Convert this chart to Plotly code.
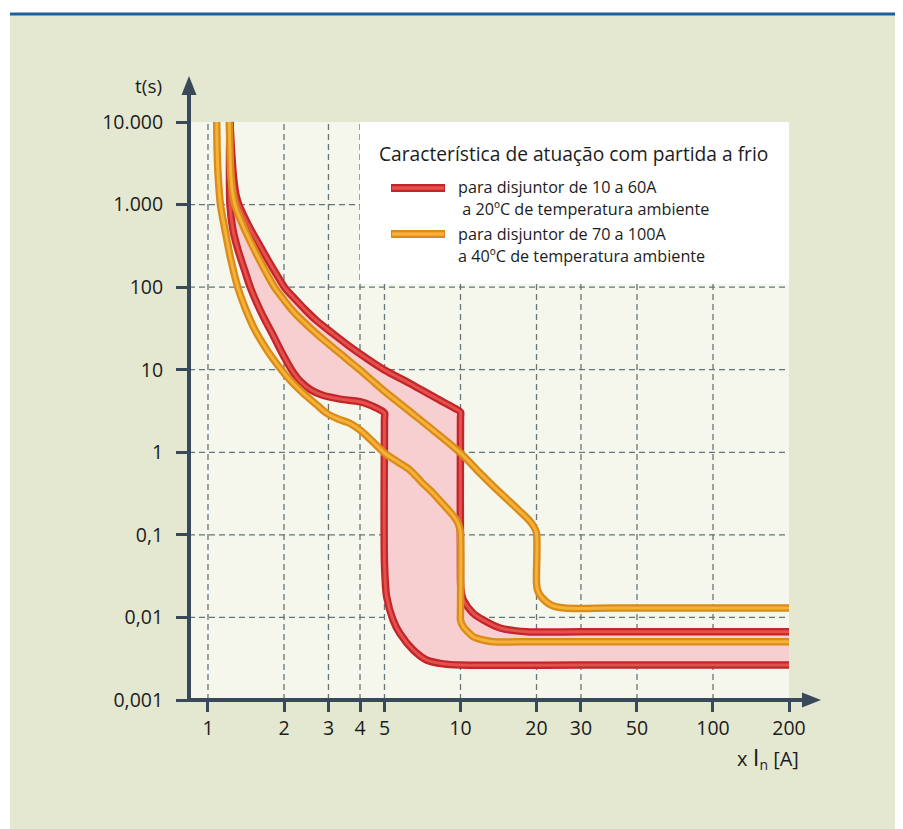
import plotly.graph_objects as go

# ticks / grid
x_ticks = [1, 2, 3, 4, 5, 10, 20, 30, 50, 100, 200]
x_ticktext = ["1", "2", "3", "4", "5", "10", "20", "30", "50", "100", "200"]
y_ticks = [0.001, 0.01, 0.1, 1, 10, 100, 1000, 10000]
y_ticktext = ["0,001", "0,01", "0,1", "1", "10", "100", "1.000", "10.000"]
grid_x = [1, 2, 3, 4, 5, 10, 20, 30, 50, 100]
grid_y = [0.01, 0.1, 1, 10, 100, 1000]

# disjuntor 10 a 60A (20ºC) - limite superior
red_hi_x = [1.222, 1.239, 1.262, 1.291, 1.327, 1.382, 1.480, 1.600, 1.729, 1.876, 2.018, 2.231, 2.433,
            2.677, 3.098, 3.618, 4.224, 5.0, 6.31, 7.925, 9.511, 10, 10, 10, 10.05, 10.26, 11.24, 12.31,
            14.34, 18.3, 30, 80, 200]
red_hi_y = [10000, 4581, 2158, 1306, 989, 748, 492, 324, 213, 140, 97.6, 69.9, 52.9, 40.0, 27.9, 19.4,
            13.9, 9.93, 6.81, 4.60, 3.39, 3.08, 2.6, 0.0284, 0.0215, 0.0163, 0.0112, 0.0093, 0.00744,
            0.0067, 0.0067, 0.0067, 0.0067]
# disjuntor 10 a 60A (20ºC) - limite inferior
red_lo_x = [1.222, 1.217, 1.222, 1.256, 1.315, 1.395, 1.474, 1.607, 1.682, 1.809, 1.937, 2.145, 2.335,
            2.558, 2.828, 3.333, 4.0, 4.462, 5.0, 5.0, 5.0, 5.10, 5.41, 5.75, 6.50, 7.34, 8.54, 10, 30, 80,
            200]
red_lo_y = [10000, 3465, 989, 492, 282, 161.5, 97.6, 52.9, 40.0, 26.3, 17.3, 9.93, 7.10, 5.68, 4.94,
            4.41, 4.10, 3.64, 2.99, 2.55, 0.0452, 0.0178, 0.0093, 0.00643, 0.00403, 0.00305, 0.00274,
            0.00265, 0.00265, 0.00265, 0.00265]

# disjuntor 70 a 100A (40ºC) - limite superior
orn_hi_x = [1.214, 1.222, 1.233, 1.256, 1.279, 1.321, 1.401, 1.494, 1.600, 1.721, 1.842, 2.0, 2.151,
            2.350, 2.727, 3.213, 3.585, 4.0, 4.442, 4.933, 6.196, 7.782, 10, 11.94, 13.58, 15.42, 16.51,
            18.67, 19.55, 20, 20, 20.18, 20.87, 22.87, 25.8, 40, 80, 200]
orn_hi_y = [10000, 4581, 2158, 1306, 989, 748, 492, 324, 213, 140, 97.6, 69.9, 52.9, 40.0, 26.3, 17.3,
            13.1, 9.93, 7.50, 5.68, 3.25, 1.86, 0.98, 0.561, 0.380, 0.264, 0.217, 0.151, 0.1245, 0.105,
            0.0261, 0.0215, 0.0178, 0.0141, 0.0130, 0.0130, 0.0130, 0.0130]
# disjuntor 70 a 100A (40ºC) - limite inferior
orn_lo_x = [1.083, 1.087, 1.098, 1.121, 1.168, 1.233, 1.315, 1.414, 1.535, 1.713, 1.928, 2.112, 2.385,
            2.702, 2.952, 3.273, 3.651, 4.0, 4.422, 5.0, 5.656, 6.31, 7.008, 7.78, 8.448, 9.087, 9.511,
            9.774, 9.92, 10, 10, 10, 10.26, 10.74, 11.23, 12.31, 13.5, 20, 50, 200]
orn_lo_y = [10000, 4581, 2158, 989, 492, 213, 97.6, 52.9, 30.3, 17.3, 10.5, 7.50, 5.18, 3.74, 2.97,
            2.53, 2.24, 1.86, 1.41, 0.98, 0.762, 0.609, 0.436, 0.321, 0.243, 0.190, 0.160, 0.139, 0.121,
            0.105, 0.0113, 0.0093, 0.0077, 0.0066, 0.00584, 0.00533, 0.00508, 0.00508, 0.00508, 0.00508]

legend_title = "Característica de atuação com partida a frio"
legend_red = ["para disjuntor de 10 a 60A", " a 20ºC de temperatura ambiente"]
legend_orn = ["para disjuntor de 70 a 100A", "a 40ºC de temperatura ambiente"]

FONT = "Open Sans"
TXT = "#1c1c1c"
AX = "#38495a"
GRID = "#65757a"
BG = "#e4e8d1"
PLOT_BG = "#f5f7ed"
PINK = "#f8cfd1"
RED_OUT, RED_IN = "#c2262b", "#e5504b"
ORN_OUT, ORN_IN = "#d98b1b", "#f6b236"
SMOOTH = 0.8

OFF = 8  # page body margin around the figure
W, H = 903 - OFF, 829 - OFF
L, R, T, B = 189 - OFF, 83, 77 - OFF, 129
PW, PH = W - L - R, H - T - B
X_LOG = [-0.0752, 2.4238]
Y_LOG = [-3, 4.545]
x_left = 10 ** X_LOG[0]


def px_x(p):
    # screen pixel -> paper x
    return (p - OFF - L) / PW


def px_y(p):
    # screen pixel -> paper y
    return (H - B - (p - OFF)) / PH


fig = go.Figure()

# faixa rosa entre os limites do disjuntor 10-60A (linear, so the closing edge stays straight)
fig.add_trace(go.Scatter(
    x=red_hi_x + red_lo_x[::-1], y=red_hi_y + red_lo_y[::-1],
    fill="toself", fillcolor=PINK, mode="lines", line=dict(width=0), hoverinfo="skip",
))

curves_red = [(red_hi_x, red_hi_y), (red_lo_x, red_lo_y)]
curves_orn = [(orn_hi_x, orn_hi_y), (orn_lo_x, orn_lo_y)]
for curves, c_out, c_in in [(curves_red, RED_OUT, RED_IN), (curves_orn, ORN_OUT, ORN_IN)]:
    for xs, ys in curves:
        fig.add_trace(go.Scatter(x=xs, y=ys, mode="lines",
                                 line=dict(color=c_out, width=7.5, shape="spline", smoothing=SMOOTH)))
    for xs, ys in curves:
        fig.add_trace(go.Scatter(x=xs, y=ys, mode="lines",
                                 line=dict(color=c_in, width=3, shape="spline", smoothing=SMOOTH)))

fig.update_traces(showlegend=False)

shapes = [
    # green card + blue rule on top
    dict(type="rect", xref="paper", yref="paper", x0=px_x(10), x1=px_x(910), y0=px_y(15), y1=px_y(840),
         fillcolor=BG, line=dict(width=0), layer="below"),
    dict(type="line", xref="paper", yref="paper", x0=px_x(10), x1=px_x(910), y0=px_y(14), y1=px_y(14),
         line=dict(color="#1d5f9f", width=3), layer="below"),
    # light plotting area
    dict(type="rect", xref="x", yref="y", x0=x_left, x1=200, y0=0.001, y1=10000,
         fillcolor=PLOT_BG, line=dict(width=0), layer="below"),
]
for gx in grid_x:
    shapes.append(dict(type="line", xref="x", yref="y", x0=gx, x1=gx, y0=0.001, y1=10000,
                       line=dict(color=GRID, width=1.3, dash="6px,4px"), layer="below"))
for gy in grid_y:
    shapes.append(dict(type="line", xref="x", yref="y", x0=x_left, x1=200, y0=gy, y1=gy,
                       line=dict(color=GRID, width=1.3, dash="6px,4px"), layer="below"))
# white legend panel
shapes.append(dict(type="rect", xref="x", yref="y", x0=4, x1=200, y0=109, y1=10000,
                   fillcolor="white", line=dict(width=0), layer="below"))
# legend symbols
for yy, c_out, c_in in [(188, RED_OUT, RED_IN), (234, ORN_OUT, ORN_IN)]:
    shapes.append(dict(type="line", xref="paper", yref="paper", x0=px_x(391), x1=px_x(445),
                       y0=px_y(yy), y1=px_y(yy), line=dict(color=c_out, width=8)))
    shapes.append(dict(type="line", xref="paper", yref="paper", x0=px_x(392), x1=px_x(444),
                       y0=px_y(yy), y1=px_y(yy), line=dict(color=c_in, width=3.5)))

# axes with arrow heads
shapes.append(dict(type="line", xref="paper", yref="paper", x0=px_x(189), x1=px_x(189),
                   y0=px_y(702), y1=px_y(92), line=dict(color=AX, width=4)))
shapes.append(dict(type="line", xref="paper", yref="paper", x0=px_x(187), x1=px_x(806),
                   y0=px_y(700), y1=px_y(700), line=dict(color=AX, width=4)))
shapes.append(dict(type="path", xref="paper", yref="paper", fillcolor=AX, line=dict(width=0),
                   path=f"M{px_x(189)},{px_y(76)} L{px_x(196.5)},{px_y(95)} L{px_x(181.5)},{px_y(95)} Z"))
shapes.append(dict(type="path", xref="paper", yref="paper", fillcolor=AX, line=dict(width=0),
                   path=f"M{px_x(821)},{px_y(700)} L{px_x(802)},{px_y(692.5)} L{px_x(802)},{px_y(707.5)} Z"))


def note(text, x, y, size, xanchor="left"):
    return dict(text=text, xref="paper", yref="paper", x=px_x(x), y=px_y(y), xanchor=xanchor,
                yanchor="middle", showarrow=False, font=dict(family=FONT, size=size, color=TXT))


annotations = [
    note(legend_title, 377, 153, 19.2),
    note(legend_red[0], 456, 187, 16.2),
    note(legend_red[1], 456, 209, 16.2),
    note(legend_orn[0], 456, 234, 16.2),
    note(legend_orn[1], 456, 256, 16.2),
    note("t(s)", 164, 86, 19, "right"),
    note("x <span style='font-size:24px'>I</span><sub>n</sub> [A]", 801, 757, 20, "right"),
]

fig.update_layout(
    width=W, height=H, margin=dict(l=L, r=R, t=T, b=B),
    paper_bgcolor="white", plot_bgcolor=BG,
    shapes=shapes, annotations=annotations, showlegend=False,
)
fig.update_xaxes(type="log", range=X_LOG, showgrid=False, zeroline=False, showline=False,
                 tickvals=x_ticks, ticktext=x_ticktext, ticks="outside", ticklen=11, tickwidth=2.5,
                 tickcolor=AX, tickfont=dict(family=FONT, size=19.5, color=TXT))
fig.update_yaxes(type="log", range=Y_LOG, showgrid=False, zeroline=False, showline=False,
                 tickvals=y_ticks, ticktext=y_ticktext, ticks="outside", ticklen=12, tickwidth=2.5,
                 tickcolor=AX, tickfont=dict(family=FONT, size=19.5, color=TXT), ticklabelstandoff=9)

fig.write_html("out.html")
